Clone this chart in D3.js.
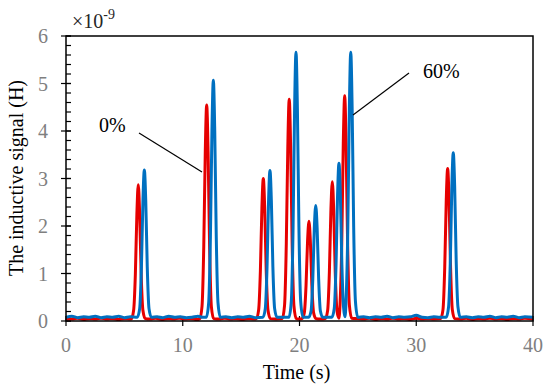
<!DOCTYPE html>
<html>
<head>
	<title>Inductive signal</title>
	<script src="https://d3js.org/d3.v7.min.js" charset="utf-8"></script>
	<style>
		body { margin: 0; background: #fff; }
		svg text { font-family: "Liberation Serif", "Times New Roman", Times, serif; }
	</style>
</head>
<body>
	<svg width="550" height="389" font-family="Liberation Serif, serif"></svg>
	<script>
		// 0% sample (red) - time in s, signal in 1e-9 H
		var timeRed = [0,0.5,1,1.5,2,2.5,3,3.5,4,4.5,5,5.5,
			5.59,5.79,5.94,6.07,6.19,6.31,6.44,6.59,6.79,
			7.2,7.7,8.2,8.7,9.2,9.7,10.2,10.7,11.2,
			11.45,11.65,11.80,11.93,12.05,12.17,12.30,12.45,12.65,
			13.1,13.6,14.1,14.6,15.1,15.6,16.1,
			16.3,16.5,16.65,16.78,16.9,17.02,17.15,17.3,17.5,
			18.0,
			18.52,18.72,18.87,19.0,19.12,19.24,19.37,19.52,19.72,
			20.0,
			20.21,20.41,20.56,20.69,20.81,20.93,21.06,21.21,21.41,
			21.8,
			22.21,22.41,22.56,22.69,22.81,22.93,23.06,23.21,23.37,
			23.47,23.62,23.75,23.87,23.99,24.12,24.27,24.47,
			25.0,25.5,26.0,26.5,27.0,27.5,28.0,28.5,29.0,29.5,30.0,30.5,31.0,31.5,
			32.09,32.29,32.44,32.57,32.69,32.81,32.94,33.09,33.29,
			33.8,34.3,34.8,35.3,35.8,36.3,36.8,37.3,37.8,38.3,38.8,39.3,40];
		var signalRed = [0.05,0.04,0.06,0.03,0.05,0.04,0.06,0.04,0.05,0.03,0.05,0.04,
			0.04,0.22,0.98,2.24,2.87,2.24,0.98,0.22,0.05,
			0.04,0.06,0.03,0.05,0.04,0.06,0.04,0.05,0.03,
			0.05,0.31,1.57,3.57,4.55,3.57,1.57,0.31,0.05,
			0.04,0.06,0.04,0.05,0.03,0.05,0.04,
			0.05,0.23,1.06,2.38,3.00,2.38,1.06,0.23,0.05,
			0.04,
			0.05,0.33,1.63,3.68,4.67,3.68,1.63,0.33,0.05,
			0.04,
			0.05,0.17,0.75,1.68,2.10,1.68,0.75,0.17,0.05,
			0.04,
			0.05,0.22,1.04,2.33,2.93,2.33,1.04,0.22,0.06,
			0.34,1.65,3.74,4.74,3.74,1.65,0.34,0.06,
			0.05,0.04,0.06,0.03,0.05,0.04,0.06,0.04,0.05,0.03,0.06,0.04,0.05,0.04,
			0.05,0.24,1.13,2.54,3.21,2.54,1.13,0.24,0.05,
			0.04,0.06,0.03,0.05,0.04,0.06,0.04,0.05,0.03,0.05,0.04,0.06,0.04];

		// 60% sample (blue)
		var timeBlue = [0,0.5,1,1.5,2,2.5,3,3.5,4,4.5,5,5.5,
			6.11,6.31,6.46,6.59,6.71,6.83,6.96,7.11,7.31,
			7.8,8.3,8.8,9.3,9.8,10.3,10.8,11.3,11.7,
			12.02,12.22,12.37,12.50,12.62,12.74,12.87,13.02,13.22,
			13.7,14.2,14.7,15.2,15.7,16.2,
			16.87,17.07,17.22,17.35,17.47,17.59,17.72,17.87,18.07,
			18.6,
			19.10,19.30,19.45,19.58,19.70,19.82,19.95,20.10,20.30,
			20.6,
			20.79,20.99,21.14,21.27,21.39,21.51,21.64,21.79,21.99,
			22.4,
			22.78,22.98,23.13,23.26,23.38,23.50,23.63,23.78,23.89,
			23.99,24.14,24.27,24.39,24.51,24.64,24.79,24.99,
			25.5,26.0,26.5,27.0,27.5,28.0,28.5,29.0,29.5,30.0,30.5,31.0,31.5,32.0,
			32.57,32.77,32.92,33.05,33.17,33.29,33.42,33.57,33.77,
			34.3,34.8,35.3,35.8,36.3,36.8,37.3,37.8,38.3,38.8,39.3,40];
		var signalBlue = [0.08,0.10,0.07,0.09,0.08,0.10,0.07,0.09,0.08,0.10,0.07,0.09,
			0.08,0.26,1.14,2.54,3.18,2.54,1.14,0.26,0.08,
			0.09,0.07,0.10,0.08,0.09,0.07,0.08,0.10,0.08,
			0.08,0.38,1.78,4.01,5.07,4.01,1.78,0.38,0.08,
			0.09,0.07,0.09,0.08,0.10,0.07,
			0.08,0.26,1.14,2.53,3.17,2.53,1.14,0.26,0.08,
			0.08,
			0.08,0.42,1.98,4.47,5.66,4.47,1.98,0.42,0.08,
			0.08,
			0.08,0.21,0.89,1.96,2.43,1.96,0.89,0.21,0.08,
			0.08,
			0.08,0.27,1.19,2.65,3.32,2.65,1.19,0.27,0.09,
			0.42,1.98,4.47,5.66,4.47,1.98,0.42,0.08,
			0.09,0.07,0.09,0.08,0.10,0.07,0.09,0.08,0.09,0.12,0.08,0.07,0.09,0.08,
			0.08,0.30,1.28,2.84,3.54,2.84,1.28,0.30,0.08,
			0.09,0.07,0.09,0.08,0.10,0.07,0.09,0.08,0.10,0.07,0.09,0.08];

		var xTicks = [0, 10, 20, 30, 40];
		var yTicks = [0, 1, 2, 3, 4, 5, 6];
		var yMinorTicks = d3.range(0, 6.001, 0.2);

		var svg = d3.select('svg');
		const mLeft = 66, mRight = 533, mTop = 36, mBottom = 321;
		const serif = 'Liberation Serif, Times New Roman, serif';

		const xScale = d3.scaleLinear().domain([0, 40]).range([mLeft, mRight]);
		const yScale = d3.scaleLinear().domain([0, 6]).range([mBottom, mTop]);

		svg.append('clipPath').attr('id', 'plot')
			.append('rect')
			.attr('x', mLeft).attr('y', mTop - 2)
			.attr('width', mRight - mLeft).attr('height', mBottom - mTop + 4);

		// minor y ticks (inside)
		svg.append('g').selectAll('line')
			.data(yMinorTicks)
			.enter().append('line')
			.attr('x1', mLeft).attr('x2', mLeft + 5)
			.attr('y1', d => yScale(d)).attr('y2', d => yScale(d))
			.attr('stroke', '#000').attr('stroke-width', 1.2);

		// major y ticks (cross)
		svg.append('g').selectAll('line')
			.data(yTicks)
			.enter().append('line')
			.attr('x1', mLeft - 5).attr('x2', mLeft + 5)
			.attr('y1', d => yScale(d)).attr('y2', d => yScale(d))
			.attr('stroke', '#000').attr('stroke-width', 1.2);

		svg.append('g').selectAll('text')
			.data(yTicks)
			.enter().append('text')
			.attr('x', 48).attr('y', d => yScale(d) + 7)
			.attr('text-anchor', 'end')
			.attr('font-family', serif)
			.attr('font-size', 20).attr('fill', '#7f7f7f')
			.text(d => d);

		// x ticks
		svg.append('g').selectAll('line')
			.data(xTicks)
			.enter().append('line')
			.attr('x1', d => xScale(d)).attr('x2', d => xScale(d))
			.attr('y1', mBottom - 5).attr('y2', mBottom + 5)
			.attr('stroke', '#000').attr('stroke-width', 1.2);

		svg.append('g').selectAll('text')
			.data(xTicks)
			.enter().append('text')
			.attr('x', d => xScale(d)).attr('y', 352)
			.attr('text-anchor', 'middle')
			.attr('font-family', serif)
			.attr('font-size', 20).attr('fill', '#7f7f7f')
			.text(d => d);

		// series
		const redData = timeRed.map((t, i) => [t, signalRed[i]]);
		const blueData = timeBlue.map((t, i) => [t, signalBlue[i]]);
		const line = d3.line()
			.x(d => xScale(d[0]))
			.y(d => yScale(d[1]))
			.curve(d3.curveMonotoneX);

		const plot = svg.append('g').attr('clip-path', 'url(#plot)');
		plot.append('path').datum(redData)
			.attr('d', line)
			.attr('fill', 'none').attr('stroke', '#e60000')
			.attr('stroke-width', 3).attr('stroke-linejoin', 'round');
		plot.append('path').datum(blueData)
			.attr('d', line)
			.attr('fill', 'none').attr('stroke', '#0070c0')
			.attr('stroke-width', 3).attr('stroke-linejoin', 'round');

		// frame
		svg.append('rect')
			.attr('x', mLeft).attr('y', mTop)
			.attr('width', mRight - mLeft).attr('height', mBottom - mTop)
			.attr('fill', 'none').attr('stroke', '#000').attr('stroke-width', 1.5);

		// axis titles
		svg.append('text')
			.attr('x', (mLeft + mRight) / 2 - 3).attr('y', 379)
			.attr('text-anchor', 'middle').attr('font-size', 20)
			.attr('font-family', serif)
			.text('Time (s)');
		svg.append('text')
			.attr('transform', 'translate(23,178) rotate(-90)')
			.attr('text-anchor', 'middle').attr('font-size', 20)
			.attr('font-family', serif)
			.text('The inductive signal (H)');

		// exponent
		const ex = svg.append('text').attr('x', 72).attr('y', 28)
			.attr('font-family', serif)
			.attr('font-size', 20).attr('fill', '#262626');
		ex.append('tspan').text('\u00d710');
		ex.append('tspan').attr('font-size', 14).attr('dy', -9).text('-9');

		// annotations
		svg.append('text').attr('x', 99).attr('y', 132)
			.attr('font-family', serif)
			.attr('font-size', 20).text('0%');
		svg.append('line')
			.attr('x1', 139).attr('y1', 133).attr('x2', 202).attr('y2', 172)
			.attr('stroke', '#000').attr('stroke-width', 1.2);
		svg.append('text').attr('x', 423).attr('y', 78)
			.attr('font-family', serif)
			.attr('font-size', 20).text('60%');
		svg.append('line')
			.attr('x1', 409).attr('y1', 73).attr('x2', 353).attr('y2', 115)
			.attr('stroke', '#000').attr('stroke-width', 1.2);
	</script>
</body>
</html>
